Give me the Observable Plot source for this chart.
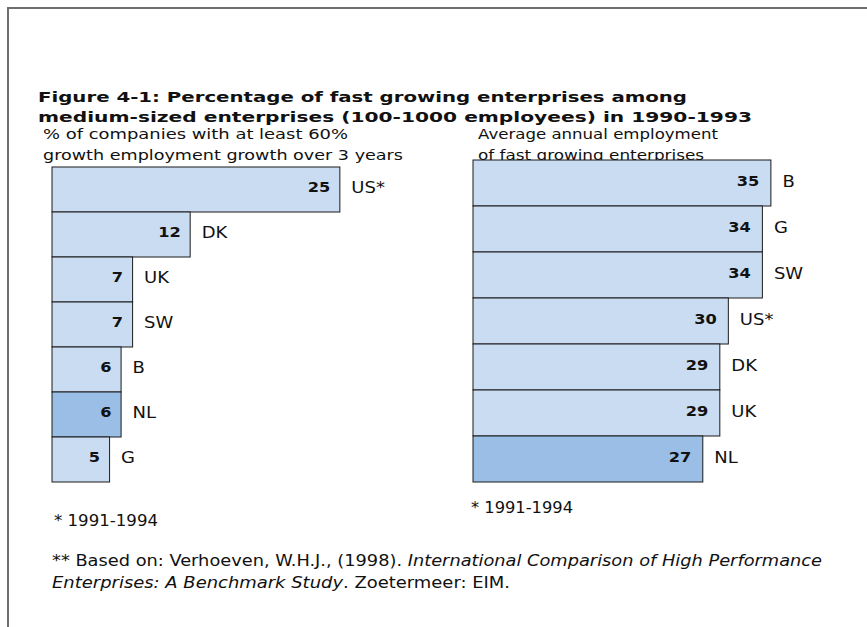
<!DOCTYPE html>
<html>
<head>
<meta charset="utf-8">
<script src="https://cdn.jsdelivr.net/npm/d3@7"></script>
<script src="https://cdn.jsdelivr.net/npm/@observablehq/plot@0.6"></script>
<style>
  html, body { margin: 0; padding: 0; background: #fff; }
  #wrap { position: relative; width: 867px; height: 627px; overflow: hidden; font-family: "DejaVu Sans", Verdana, sans-serif; color: #111; }
  #frame { position: absolute; left: 7px; top: 7px; width: 870px; height: 619px; border-top: 2px solid #6e6e6e; border-left: 2px solid #6e6e6e; }
  .t { position: absolute; white-space: nowrap; transform-origin: 0 50%; }
  .title { font-size: 14.5px; font-weight: bold; line-height: 14px; }
  .sub { font-size: 14px; line-height: 14px; }
  .foot { font-size: 15px; line-height: 16px; }
  .plot { position: absolute; }
</style>
</head>
<body>
<div id="wrap">
  <div id="frame"></div>
  <div class="t title" style="left:38px; top:90px" data-w="649">Figure 4-1: Percentage of fast growing enterprises among</div>
  <div class="t title" style="left:38px; top:109.5px" data-w="714">medium-sized enterprises (100-1000 employees) in 1990-1993</div>
  <div class="t sub" style="left:43px; top:126.5px" data-w="305">% of companies with at least 60%</div>
  <div class="t sub" style="left:43px; top:148px" data-w="360">growth employment growth over 3 years</div>
  <div class="t sub" style="left:478px; top:126.5px" data-w="240">Average annual employment</div>
  <div class="t sub" style="left:478px; top:148px" data-w="226">of fast growing enterprises</div>
  <div class="t foot" style="left:54px; top:513px" data-w="104">* 1991-1994</div>
  <div class="t foot" style="left:471px; top:500px" data-w="102">* 1991-1994</div>
  <div class="t foot" style="left:52px; top:553px" data-w="770">** Based on: Verhoeven, W.H.J., (1998). <i>International Comparison of High Performance</i></div>
  <div class="t foot" style="left:52px; top:575px" data-w="458"><i>Enterprises: A Benchmark Study</i>. Zoetermeer: EIM.</div>
  <div class="plot" id="left" style="left:0px; top:165px"></div>
  <div class="plot" id="right" style="left:420px; top:157px"></div>
</div>
<script>
// Left panel: % of companies with at least 60% employment growth over 3 years
const leftCountries = ["US*", "DK", "UK", "SW", "B", "NL", "G"];
const leftValues = [25, 12, 7, 7, 6, 6, 5];
// Right panel: average annual employment of fast growing enterprises
const rightCountries = ["B", "G", "SW", "US*", "DK", "UK", "NL"];
const rightValues = [35, 34, 34, 30, 29, 29, 27];
const highlight = "NL";

const lightFill = "#c9dcf1";
const darkFill = "#9abee5";

// widen text horizontally about its anchor (reference glyphs are wide)
function stretchTexts(svg, k) {
  svg.querySelectorAll("text").forEach(t => {
    const tr = t.getAttribute("transform");
    if (tr && tr.includes("translate")) {
      t.setAttribute("transform", `${tr} scale(${k},1)`);
    } else {
      const x = parseFloat(t.getAttribute("x"));
      if (!isNaN(x)) {
        t.setAttribute("transform", `${tr || ""} translate(${x},0) scale(${k},1)`);
        t.removeAttribute("x");
      } else {
        t.setAttribute("transform", `${tr || ""} scale(${k},1)`);
      }
    }
  });
}

function panel(countries, values, opts) {
  const data = countries.map((c, i) => ({country: c, value: values[i], hl: c === highlight}));
  const svg = Plot.plot({
    width: opts.width,
    height: opts.height,
    marginLeft: opts.marginLeft,
    marginRight: 0,
    marginTop: 2,
    marginBottom: 2,
    x: {domain: opts.xDomain, axis: null},
    y: {domain: countries, axis: null, padding: 0},
    style: {fontFamily: "'DejaVu Sans', Verdana, sans-serif", color: "#111", background: "transparent"},
    marks: [
      Plot.barX(data, {x: "value", y: "country", fill: d => d.hl ? darkFill : lightFill, stroke: "#1a1a1a", strokeWidth: 1}),
      Plot.text(data, {x: "value", y: "country", text: d => String(d.value), textAnchor: "end", dx: opts.valueDx, dy: -2, fontWeight: "bold", fontSize: 13.5, fill: "#111"}),
      Plot.text(data, {x: "value", y: "country", text: "country", textAnchor: "start", dx: opts.labelDx, dy: opts.labelDy, fontSize: 15, fill: "#111"})
    ]
  });
  stretchTexts(svg, 1.2);
  return svg;
}

document.getElementById("left").append(panel(leftCountries, leftValues, {
  width: 455, height: 319, marginLeft: 52, xDomain: [0, 35], valueDx: -10, labelDx: 11, labelDy: -2
}));
document.getElementById("right").append(panel(rightCountries, rightValues, {
  width: 436, height: 328, marginLeft: 53, xDomain: [0, 45], valueDx: -12, labelDx: 11, labelDy: -1
}));

// fit each HTML text line to its width in the reference
document.querySelectorAll(".t[data-w]").forEach(el => {
  const w = el.getBoundingClientRect().width;
  const target = +el.dataset.w;
  if (w > 0) el.style.transform = `scaleX(${target / w})`;
});
</script>
</body>
</html>
